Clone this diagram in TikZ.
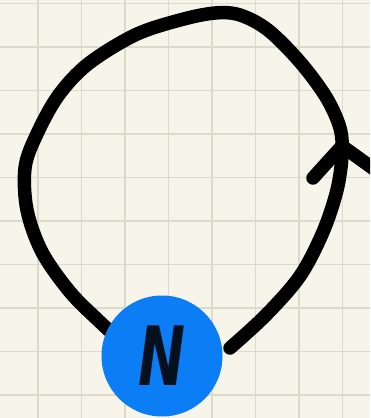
\documentclass[tikz,border=0pt]{standalone}
\usepackage{fontspec}
\newfontfamily\nfont{DejaVu Sans}
\definecolor{paper}{HTML}{F7F5EA}
\definecolor{gridc}{HTML}{DDDACB}
\definecolor{nblue}{HTML}{0B7DF5}
\definecolor{ink}{HTML}{04101E}
\tikzset{
  stroke/.style={draw=black, line width=13.5pt, line cap=round, line join=round},
  nodec/.style={circle, fill=nblue, minimum size=121pt, inner sep=0pt, text=ink,
    font=\nfont\bfseries\itshape\fontsize{78}{78}\selectfont}
}
\begin{document}
\begin{tikzpicture}[x=1pt,y=-1pt]
\fill[paper] (0,0) rectangle (370,418);
\useasboundingbox (0,0) rectangle (370,418);
\begin{scope}
\clip (0,0) rectangle (370,418);
\foreach \i in {0,...,7} {
  \draw[gridc, line width=1.3pt] ({38+43.5*\i},0) -- ({38+43.5*\i},418);
}
\foreach \j in {0,...,9} {
  \draw[gridc, line width=1.3pt] (0,{3.5+43.5*\j}) -- (370,{3.5+43.5*\j});
}
\coordinate (s) at (125,345);
\coordinate (e) at (230,348);
\coordinate (tip) at (342,146);
\coordinate (bl) at (313,178);
\coordinate (br) at (378,172);
\draw[stroke] plot[smooth, tension=0.55] coordinates {(s) (100,322) (70,292) (42,252) (27,210) (25,168) (36,136) (58,96) (88,64) (135,35) (180,20) (215,13) (240,15) (268,30) (300,62) (326,97) (340,128) (342,155) (337,190) (323,232) (300,276) (266,315) (e)};
\draw[stroke] (bl) -- (tip) -- (br);
\node[nodec] (n) at (162,356) {\scalebox{0.72}[1.05]{N}};
\end{scope}
\end{tikzpicture}
\end{document}
